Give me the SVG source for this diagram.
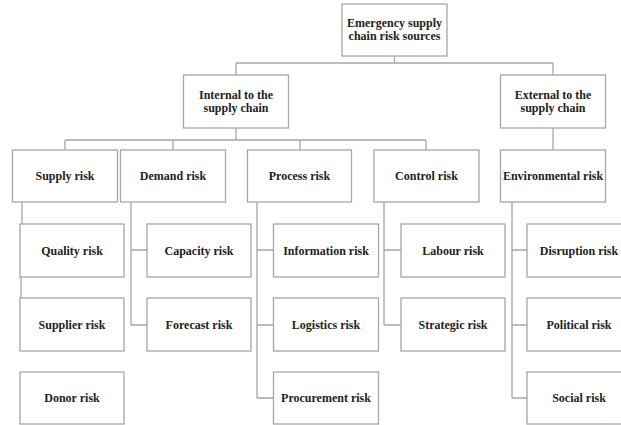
<svg xmlns="http://www.w3.org/2000/svg" width="621" height="425" viewBox="0 0 621 425">
<style>
  .box { fill: #ffffff; stroke: #a6a6a6; stroke-width: 1.3; }
  .conn { fill: none; stroke: #a6a6a6; stroke-width: 1.3; }
  text { font-family: "Liberation Serif", "Times New Roman", serif; font-weight: bold; font-size: 12px; fill: #222222; text-anchor: middle; }
</style>
<rect width="621" height="425" fill="#ffffff"/>
<g id="connectors">
  <path class="conn" d="M394.5 56 V63 M236 63 H553 M236 63 V75 M553 63 V75"/>
  <path class="conn" d="M236 128 V140 M65 140 H426 M65 140 V150 M173 140 V150 M300 140 V150 M426 140 V150"/>
  <path class="conn" d="M553 128 V150"/>
  <path class="conn" d="M22 202 V224 M21 277 V298"/>
  <path class="conn" d="M131 202 V325 M131 250 H147 M131 325 H147"/>
  <path class="conn" d="M257 202 V398 M257 250 H273 M257 325 H273 M257 398 H273"/>
  <path class="conn" d="M384 202 V325 M384 250 H401 M384 325 H401"/>
  <path class="conn" d="M512 202 V398 M512 250 H527 M512 325 H527 M512 398 H527"/>
</g>
<g id="root"><rect class="box" x="342" y="4" width="105" height="52"/><text x="394.5" y="27">Emergency supply</text><text x="394.5" y="40">chain risk sources</text></g>
<g id="internal"><rect class="box" x="183.5" y="75" width="105" height="53"/><text x="236" y="99">Internal to the</text><text x="236" y="112">supply chain</text></g>
<g id="external"><rect class="box" x="500.5" y="75" width="105" height="53"/><text x="553" y="99">External to the</text><text x="553" y="112">supply chain</text></g>
<g id="supply"><rect class="box" x="12.5" y="150" width="105" height="52"/><text x="65" y="180">Supply risk</text></g>
<g id="demand"><rect class="box" x="120.5" y="150" width="105" height="52"/><text x="173" y="180">Demand risk</text></g>
<g id="process"><rect class="box" x="247.5" y="150" width="104" height="52"/><text x="299.5" y="180">Process risk</text></g>
<g id="control"><rect class="box" x="374" y="150" width="105" height="52"/><text x="426.5" y="180">Control risk</text></g>
<g id="environmental"><rect class="box" x="500.5" y="150" width="105" height="52"/><text x="553" y="180">Environmental risk</text></g>
<g id="quality"><rect class="box" x="20" y="224" width="104" height="53"/><text x="72" y="254.5">Quality risk</text></g>
<g id="supplier"><rect class="box" x="20" y="298" width="104" height="53"/><text x="72" y="329">Supplier risk</text></g>
<g id="donor"><rect class="box" x="20" y="372" width="104" height="52"/><text x="72" y="402">Donor risk</text></g>
<g id="capacity"><rect class="box" x="147" y="224" width="104" height="53"/><text x="199" y="254.5">Capacity risk</text></g>
<g id="forecast"><rect class="box" x="147" y="298" width="104" height="53"/><text x="199" y="329">Forecast risk</text></g>
<g id="information"><rect class="box" x="273.5" y="224" width="105" height="53"/><text x="326" y="254.5">Information risk</text></g>
<g id="logistics"><rect class="box" x="273.5" y="298" width="105" height="53"/><text x="326" y="329">Logistics risk</text></g>
<g id="procurement"><rect class="box" x="273.5" y="372" width="105" height="52"/><text x="326" y="402">Procurement risk</text></g>
<g id="labour"><rect class="box" x="401" y="224" width="104" height="53"/><text x="453" y="254.5">Labour risk</text></g>
<g id="strategic"><rect class="box" x="401" y="298" width="104" height="53"/><text x="453" y="329">Strategic risk</text></g>
<g id="disruption"><rect class="box" x="527" y="224" width="105" height="53"/><text x="579" y="254.5">Disruption risk</text></g>
<g id="political"><rect class="box" x="527" y="298" width="105" height="53"/><text x="579" y="329">Political risk</text></g>
<g id="social"><rect class="box" x="527" y="372" width="105" height="52"/><text x="579" y="402">Social risk</text></g>
</svg>
